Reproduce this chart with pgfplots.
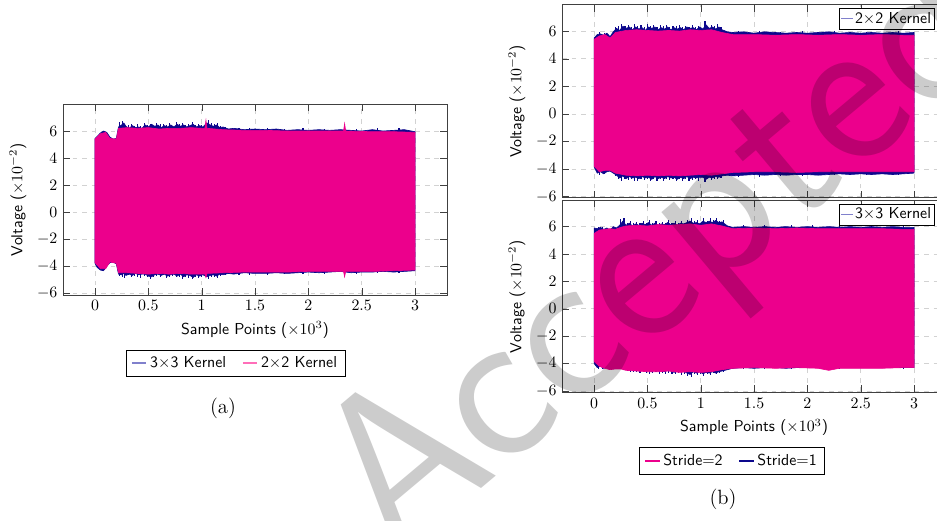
\documentclass[border=0pt]{standalone}
\usepackage{fontspec}
\usepackage{pgfplots}
\pgfplotsset{compat=1.18}
\usepackage{pgfplotstable}
\usepgfplotslibrary{fillbetween}
\tikzset{fill between/on layer=main}
\definecolor{kpink}{RGB}{236,0,140}
\definecolor{kblue}{RGB}{12,8,140}
\definecolor{lgblue}{RGB}{128,128,204}
\definecolor{lgpink}{RGB}{255,110,185}

% envelopes of the signals (x in 10^3 samples, y in 10^-2 V)
\pgfplotstableread{
x hi lo
0 5.45 -3.80
0.02 5.6 -4.1
0.05 5.85 -4.3
0.08 6.0 -4.35
0.11 5.9 -4.0
0.14 5.55 -3.75
0.17 5.4 -3.7
0.2 5.45 -3.85
0.22 6.3 -4.6
0.25 6.45 -4.65
0.27 6.6 -4.55
0.29 6.35 -4.7
0.32 6.2 -4.6
0.35 6.4 -4.7
0.38 6.25 -4.55
0.41 6.3 -4.65
0.44 6.2 -4.6
0.47 6.45 -4.6
0.5 6.3 -4.75
0.53 6.5 -4.8
0.56 6.35 -4.65
0.59 6.45 -4.6
0.62 6.25 -4.7
0.65 6.4 -4.6
0.68 6.3 -4.75
0.71 6.45 -4.65
0.74 6.3 -4.6
0.77 6.5 -4.75
0.8 6.35 -4.6
0.83 6.45 -4.8
0.86 6.3 -4.65
0.89 6.4 -4.7
0.92 6.5 -4.85
0.95 6.3 -4.65
0.98 6.4 -4.75
1.01 6.3 -4.65
1.05 6.6 -4.8
1.08 6.45 -4.7
1.11 6.35 -4.65
1.14 6.45 -4.75
1.17 6.25 -4.6
1.2 6.3 -4.65
1.25 6.15 -4.55
1.3 6.2 -4.6
1.4 6.1 -4.5
1.5 6.15 -4.55
1.6 6.1 -4.55
1.7 6.15 -4.5
1.8 6.05 -4.55
1.9 6.1 -4.5
2.0 6.05 -4.45
2.1 6.1 -4.5
2.2 6.05 -4.45
2.3 6.1 -4.4
2.4 6.05 -4.5
2.5 6.0 -4.45
2.6 6.1 -4.45
2.7 6.0 -4.4
2.8 6.05 -4.45
2.9 6.1 -4.4
3.0 5.95 -4.35
}\blueA
\pgfplotstableread{
x hi lo
0 5.4 -3.75
0.05 5.8 -4.2
0.1 5.9 -4.2
0.14 5.45 -3.7
0.2 5.4 -3.8
0.22 6.2 -4.5
0.3 6.25 -4.5
0.4 6.2 -4.55
0.5 6.25 -4.6
0.6 6.15 -4.55
0.7 6.2 -4.6
0.8 6.2 -4.55
0.9 6.25 -4.6
1.0 6.2 -4.6
1.03 6.2 -4.6
1.04 6.8 -4.85
1.05 6.2 -4.55
1.2 6.1 -4.5
1.4 6.05 -4.45
1.6 6.05 -4.45
1.8 6.0 -4.45
2.0 6.0 -4.4
2.2 6.0 -4.4
2.33 6.0 -4.4
2.34 6.55 -4.8
2.35 6.0 -4.4
2.6 5.95 -4.4
2.8 5.95 -4.35
3.0 5.9 -4.3
}\pinkA
\pgfplotstableread{
x up down
0.23 6.7 -4.75
0.26 6.75 -4.8
0.28 6.5 -4.9
0.31 6.45 -4.7
0.34 6.55 -4.85
0.37 6.4 -4.75
0.4 6.5 -4.8
0.43 6.35 -4.9
0.46 6.6 -4.75
0.49 6.45 -4.85
0.52 6.55 -4.95
0.55 6.4 -4.8
0.58 6.6 -4.75
0.61 6.5 -4.85
0.64 6.55 -4.7
0.67 6.45 -4.9
0.7 6.6 -4.8
0.73 6.4 -4.75
0.76 6.65 -4.85
0.79 6.5 -4.8
0.82 6.6 -4.95
0.85 6.45 -4.8
0.88 6.5 -4.9
0.91 6.7 -5.0
0.94 6.45 -4.85
0.97 6.55 -4.9
1.0 6.45 -4.8
1.06 6.8 -4.95
1.09 6.6 -4.85
1.12 6.5 -4.8
1.15 6.6 -4.9
1.18 6.4 -4.75
1.22 6.3 -4.7
1.35 6.2 -4.65
1.45 6.2 -4.7
1.62 6.2 -4.65
1.78 6.15 -4.6
1.95 6.2 -4.6
2.15 6.15 -4.6
2.45 6.15 -4.6
2.65 6.2 -4.55
2.85 6.2 -4.55
}\spikeA
\pgfplotstableread{
x hi lo
0 5.5 -3.85
0.03 5.75 -4.3
0.06 5.8 -4.2
0.09 5.7 -4.35
0.12 5.85 -4.2
0.15 5.6 -4.15
0.18 5.95 -4.3
0.21 6.2 -4.45
0.24 6.05 -4.65
0.27 6.35 -4.5
0.3 6.2 -4.7
0.33 6.3 -4.55
0.36 6.1 -4.65
0.39 6.3 -4.6
0.42 6.15 -4.7
0.45 6.25 -4.55
0.48 6.05 -4.65
0.51 6.3 -4.6
0.54 6.2 -4.75
0.57 6.3 -4.55
0.6 6.1 -4.7
0.63 6.25 -4.6
0.66 6.15 -4.7
0.69 6.3 -4.55
0.72 6.1 -4.65
0.75 6.25 -4.6
0.78 6.15 -4.75
0.81 6.25 -4.6
0.84 6.1 -4.7
0.87 6.3 -4.55
0.9 6.2 -4.7
0.93 6.25 -4.6
0.96 6.1 -4.65
0.99 6.3 -4.6
1.02 6.15 -4.6
1.05 6.45 -4.75
1.08 6.2 -4.6
1.11 6.3 -4.65
1.14 6.15 -4.55
1.17 6.3 -4.6
1.2 6.1 -4.5
1.25 5.95 -4.45
1.3 5.9 -4.5
1.4 5.95 -4.45
1.5 5.85 -4.4
1.6 5.95 -4.45
1.7 5.9 -4.4
1.8 5.85 -4.45
1.9 5.9 -4.4
2.0 5.85 -4.4
2.1 5.9 -4.45
2.2 5.95 -4.4
2.3 5.85 -4.35
2.4 5.9 -4.4
2.5 5.85 -4.35
2.6 5.9 -4.4
2.7 5.85 -4.35
2.8 5.9 -4.4
2.9 5.85 -4.35
3.0 5.9 -4.3
}\blueB
\pgfplotstableread{
x hi lo
0 5.4 -3.8
0.05 5.65 -4.2
0.1 5.75 -4.1
0.15 5.5 -4.1
0.2 5.9 -4.3
0.3 6.05 -4.45
0.4 6.1 -4.5
0.5 6.05 -4.45
0.6 6.0 -4.5
0.7 6.05 -4.45
0.8 6.0 -4.5
0.9 6.1 -4.45
1.0 6.05 -4.4
1.1 6.1 -4.45
1.2 5.9 -4.35
1.3 5.75 -4.25
1.5 5.75 -4.2
1.7 5.7 -4.2
1.9 5.75 -4.25
2.1 5.7 -4.2
2.3 5.75 -4.2
2.5 5.7 -4.2
2.7 5.75 -4.2
2.9 5.7 -4.2
3.0 5.7 -4.2
}\pinkB
\pgfplotstableread{
x up down
0.05 5.95 -4.4
0.1 5.9 -4.35
0.2 6.3 -4.5
0.23 6.4 -4.7
0.26 6.5 -4.85
0.29 6.35 -4.7
0.32 6.45 -4.8
0.35 6.3 -4.75
0.38 6.5 -4.85
0.41 6.35 -4.9
0.44 6.45 -4.7
0.47 6.3 -4.8
0.5 6.5 -4.75
0.53 6.35 -4.9
0.56 6.45 -4.7
0.59 6.3 -4.85
0.62 6.45 -4.75
0.65 6.35 -4.9
0.68 6.45 -4.7
0.71 6.3 -4.8
0.74 6.4 -4.75
0.77 6.35 -4.9
0.8 6.45 -4.7
0.83 6.3 -4.85
0.86 6.4 -4.75
0.89 6.3 -4.85
0.92 6.45 -4.8
0.95 6.3 -4.75
0.98 6.4 -4.85
1.04 6.7 -4.95
1.1 6.45 -4.8
1.13 6.35 -4.7
1.16 6.5 -4.75
1.19 6.3 -4.65
1.35 6.0 -4.55
1.55 6.0 -4.55
1.75 5.95 -4.5
1.95 6.0 -4.5
2.25 6.0 -4.45
2.55 5.95 -4.45
2.85 6.0 -4.45
}\spikeB
\pgfplotstableread{
x hi lo
0 5.9 -4.0
0.03 5.85 -4.3
0.06 5.95 -4.2
0.09 5.8 -4.35
0.12 5.9 -4.25
0.15 5.75 -4.1
0.18 6.0 -3.85
0.21 5.9 -3.75
0.24 6.1 -3.9
0.27 6.4 -4.2
0.3 6.1 -4.45
0.33 6.25 -4.35
0.36 6.05 -4.5
0.39 6.2 -4.4
0.42 6.1 -4.55
0.45 6.25 -4.45
0.48 6.15 -4.55
0.51 6.3 -4.5
0.54 6.1 -4.6
0.57 6.25 -4.45
0.6 6.1 -4.55
0.63 6.2 -4.5
0.66 6.15 -4.6
0.69 6.3 -4.5
0.72 6.15 -4.55
0.75 6.25 -4.65
0.78 6.1 -4.5
0.81 6.25 -4.6
0.84 6.2 -4.55
0.87 6.3 -4.7
0.9 6.4 -4.8
0.93 6.25 -4.6
0.96 6.3 -4.7
0.99 6.2 -4.6
1.02 6.4 -4.75
1.05 6.3 -4.65
1.08 6.4 -4.7
1.11 6.3 -4.6
1.14 6.45 -4.7
1.17 6.3 -4.6
1.2 6.35 -4.55
1.25 6.05 -4.45
1.3 5.95 -4.35
1.4 6.0 -4.3
1.5 5.95 -4.35
1.6 6.0 -4.3
1.7 5.95 -4.3
1.8 6.0 -4.35
1.9 5.95 -4.3
2.0 6.0 -4.25
2.1 5.95 -4.3
2.2 6.0 -4.2
2.3 5.95 -4.3
2.4 6.0 -4.25
2.5 5.95 -4.3
2.6 6.0 -4.25
2.7 5.95 -4.3
2.8 6.0 -4.25
2.9 5.95 -4.3
3.0 5.95 -4.3
}\blueC
\pgfplotstableread{
x hi lo
0 5.5 -3.85
0.05 5.75 -4.2
0.1 5.8 -4.35
0.15 5.85 -4.45
0.2 5.8 -4.4
0.25 5.95 -4.4
0.3 6.05 -4.5
0.4 6.1 -4.55
0.5 6.05 -4.6
0.6 6.15 -4.6
0.7 6.1 -4.55
0.8 6.15 -4.65
0.9 6.2 -4.6
1.0 6.1 -4.65
1.1 6.2 -4.6
1.2 6.05 -4.45
1.3 5.85 -4.35
1.5 5.9 -4.3
1.7 5.85 -4.35
1.9 5.9 -4.3
2.1 5.85 -4.35
2.2 5.85 -4.5
2.3 5.85 -4.35
2.5 5.85 -4.35
2.7 5.85 -4.35
2.9 5.8 -4.3
3.0 5.8 -4.3
}\pinkC
\pgfplotstableread{
x up down
0.04 5.95 -4.4
0.08 5.95 -4.4
0.25 6.55 -4.3
0.28 6.6 -4.5
0.31 6.3 -4.55
0.34 6.4 -4.6
0.37 6.25 -4.6
0.4 6.35 -4.65
0.43 6.25 -4.7
0.46 6.4 -4.6
0.49 6.3 -4.7
0.52 6.45 -4.75
0.55 6.3 -4.7
0.58 6.4 -4.65
0.61 6.3 -4.75
0.64 6.35 -4.7
0.67 6.3 -4.8
0.7 6.45 -4.7
0.73 6.3 -4.75
0.76 6.4 -4.8
0.79 6.3 -4.7
0.82 6.4 -4.85
0.85 6.3 -4.75
0.88 6.5 -4.9
0.91 6.6 -5.0
0.94 6.4 -4.8
0.97 6.45 -4.85
1.0 6.3 -4.75
1.03 6.6 -4.9
1.06 6.4 -4.8
1.09 6.6 -4.85
1.12 6.45 -4.7
1.15 6.65 -4.8
1.18 6.4 -4.7
1.21 6.5 -4.6
1.4 6.1 -4.4
1.6 6.1 -4.4
1.85 6.1 -4.4
2.05 6.1 -4.35
2.3 6.05 -4.4
2.6 6.1 -4.35
2.9 6.05 -4.4
}\spikeC

\pgfplotsset{
  sig/.style={
    width=241.9pt, scale only axis,
    xmin=-0.3, xmax=3.3,
    xtick={0,0.5,...,3}, ytick={-6,-4,...,6},
    grid=major, grid style={dashed, gray!35},
    axis line style={black!75, semithick},
    tick style={black!75},
    label style={font=\sffamily},
    ylabel={Voltage ($\times 10^{-2}$)},
    legend cell align=left,
  },
  shortleg/.style={legend image code/.code={\draw[##1, thick] (0cm,0cm) -- (0.32cm,0cm);}},
  spike/.style={kblue, ycomb, line width=0.7pt, forget plot},
}

\begin{document}
\begin{tikzpicture}

% (a)
\begin{axis}[sig, at={(39.7pt,141.75pt)}, anchor=south west, height=120.3pt,
  ymin=-6.15, ymax=8,
  xlabel={Sample Points ($\times 10^{3}$)},
  legend columns=2, shortleg,
  legend style={at={(0.45,-0.356)}, anchor=center, draw=black, font=\sffamily,
    /tikz/every even column/.append style={column sep=8pt}}]
\addplot[spike] table[x=x, y=up] {\spikeA};
\addplot[spike] table[x=x, y=down] {\spikeA};
\addplot[name path=ah1, draw=none, forget plot] table[x=x, y=hi] {\blueA};
\addplot[name path=al1, draw=none, forget plot] table[x=x, y=lo] {\blueA};
\addplot[fill=kblue, draw=kblue, forget plot] fill between[of=ah1 and al1];
\addplot[name path=ah2, draw=none, forget plot] table[x=x, y=hi] {\pinkA};
\addplot[name path=al2, draw=none, forget plot] table[x=x, y=lo] {\pinkA};
\addplot[fill=kpink, draw=kpink, forget plot] fill between[of=ah2 and al2];
\addlegendimage{lgblue}
\addlegendentry{3$\times$3 Kernel}
\addlegendimage{lgpink}
\addlegendentry{2$\times$2 Kernel}
\end{axis}

% (b) top: 2x2 kernel
\begin{axis}[sig, at={(354.1pt,202.9pt)}, anchor=south west, height=121.6pt,
  ymin=-6.1, ymax=7.9, xticklabels={},
  legend image code/.code={\draw[#1, thick] (0cm,0cm) -- (0.25cm,0cm);},
  legend style={at={(0.97,0.985)}, anchor=north east, draw=black, font=\sffamily,
    inner xsep=1pt, inner ysep=0.5pt, nodes={inner xsep=1pt}}]
\addplot[spike] table[x=x, y=up] {\spikeB};
\addplot[spike] table[x=x, y=down] {\spikeB};
\addplot[name path=bh1, draw=none, forget plot] table[x=x, y=hi] {\blueB};
\addplot[name path=bl1, draw=none, forget plot] table[x=x, y=lo] {\blueB};
\addplot[fill=kblue, draw=kblue, forget plot] fill between[of=bh1 and bl1];
\addplot[name path=bh2, draw=none, forget plot] table[x=x, y=hi] {\pinkB};
\addplot[name path=bl2, draw=none, forget plot] table[x=x, y=lo] {\pinkB};
\addplot[fill=kpink, draw=kpink, forget plot] fill between[of=bh2 and bl2];
\addlegendimage{lgblue}
\addlegendentry{2$\times$2 Kernel}
\end{axis}

% (b) bottom: 3x3 kernel
\begin{axis}[sig, at={(354.1pt,80.5pt)}, anchor=south west, height=120.7pt,
  ymin=-6.1, ymax=7.9,
  xlabel={Sample Points ($\times 10^{3}$)},
  legend image code/.code={\draw[#1, thick] (0cm,0cm) -- (0.25cm,0cm);},
  legend style={at={(0.97,0.985)}, anchor=north east, draw=black, font=\sffamily,
    inner xsep=1pt, inner ysep=0.5pt, nodes={inner xsep=1pt}}]
\addplot[spike] table[x=x, y=up] {\spikeC};
\addplot[spike] table[x=x, y=down] {\spikeC};
\addplot[name path=ch1, draw=none, forget plot] table[x=x, y=hi] {\blueC};
\addplot[name path=cl1, draw=none, forget plot] table[x=x, y=lo] {\blueC};
\addplot[fill=kblue, draw=kblue, forget plot] fill between[of=ch1 and cl1];
\addplot[name path=ch2, draw=none, forget plot] table[x=x, y=hi] {\pinkC};
\addplot[name path=cl2, draw=none, forget plot] table[x=x, y=lo] {\pinkC};
\addplot[fill=kpink, draw=kpink, forget plot] fill between[of=ch2 and cl2];
\addlegendimage{lgblue}
\addlegendentry{3$\times$3 Kernel}
\end{axis}

% legend of (b)
\begin{axis}[at={(354.1pt,80.5pt)}, anchor=south west, width=241.9pt, height=120.7pt,
  scale only axis, hide axis, xmin=0, xmax=1, ymin=0, ymax=1,
  legend columns=2, shortleg,
  legend style={at={(0.443,-0.359)}, anchor=center, draw=black, font=\sffamily,
    /tikz/every even column/.append style={column sep=8pt}}]
\addlegendimage{kpink}
\addlegendentry{Stride$=$2}
\addlegendimage{kblue}
\addlegendentry{Stride$=$1}
\end{axis}

\node[font=\fontsize{13}{15}\selectfont] at (140.5pt,70.6pt) {(a)};
\node[font=\fontsize{13}{15}\selectfont] at (455.5pt,13.2pt) {(b)};

% watermark
\node[rotate=40, text=black, text opacity=0.2,
  font=\fontsize{140}{140}\selectfont\sffamily] at (418.3pt,161.9pt) {Accepted};

\pgfresetboundingbox
\useasboundingbox (0pt,0pt) rectangle (590.3pt,327.6pt);
\end{tikzpicture}
\end{document}
